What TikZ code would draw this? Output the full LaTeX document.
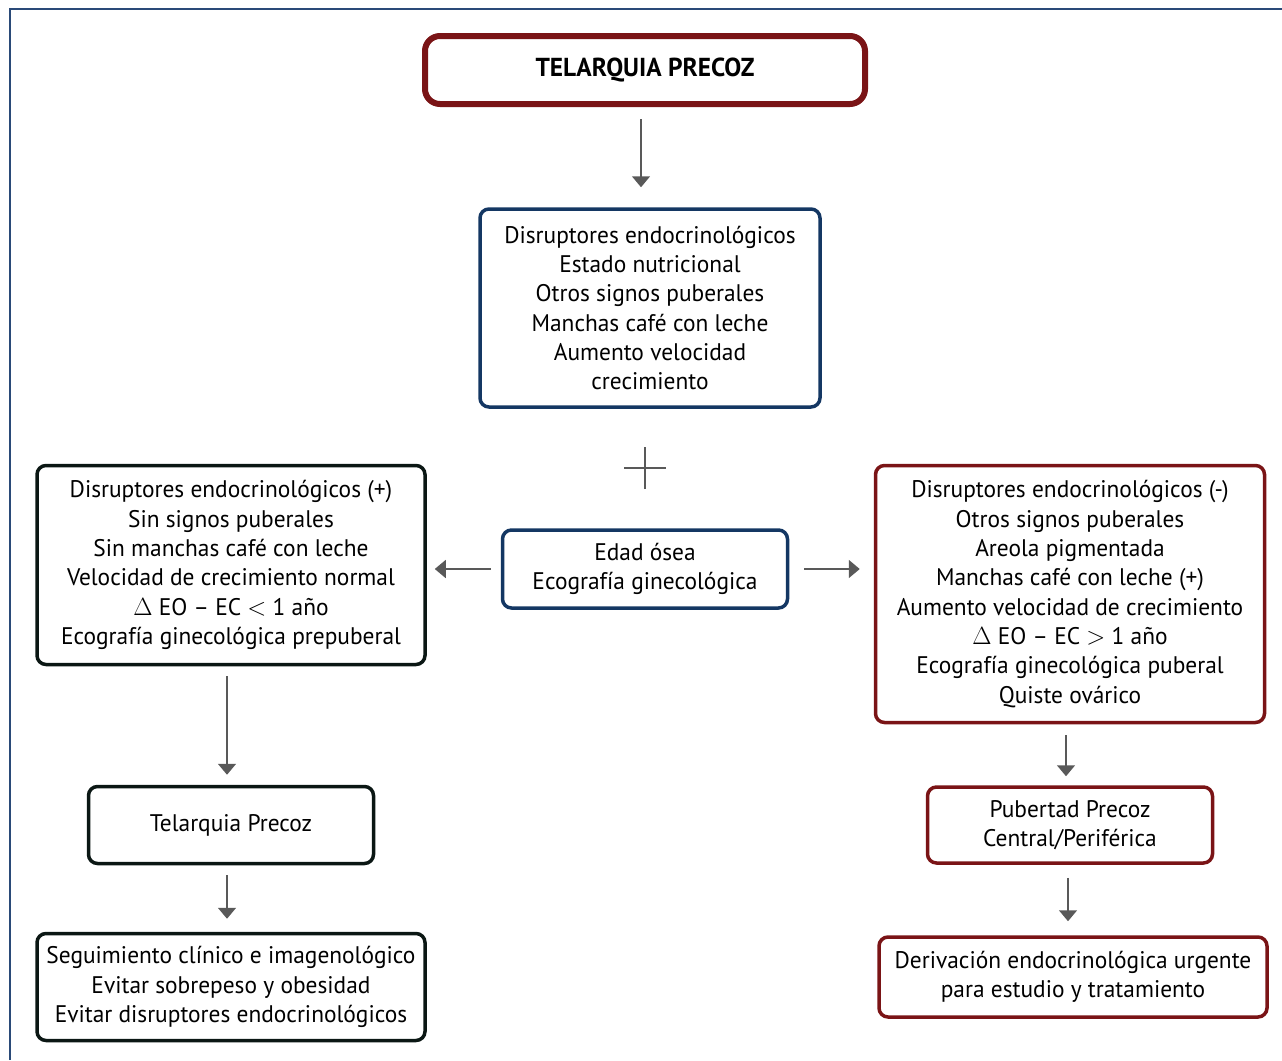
\documentclass[tikz,border=0pt]{standalone}
\usepackage{fontspec}
\setmainfont[FakeStretch=0.975]{PT Sans}
\usetikzlibrary{arrows.meta}
\definecolor{boxred}{HTML}{7A1416}
\definecolor{boxblue}{HTML}{143763}
\definecolor{boxblack}{HTML}{0B1714}
\definecolor{framecol}{HTML}{2A4A78}
\tikzset{
  box/.style={draw, rounded corners=9pt, line width=3.5pt, align=center, inner sep=0pt,
    font=\fontsize{24}{29.3}\selectfont},
  redbox/.style={box, draw=boxred},
  bluebox/.style={box, draw=boxblue},
  blackbox/.style={box, draw=boxblack},
  arr/.style={draw=black!65, line width=1.5pt, -{Triangle[width=18pt,length=11pt]}}
}
\begin{document}
\begin{tikzpicture}[x=1pt,y=-1pt]
  \useasboundingbox (0,0) rectangle (1282,1060);
  \draw[framecol, line width=2pt] (10,1060) -- (10,9) -- (1282,9); % frame

  \node[redbox, line width=6pt, rounded corners=15pt, minimum width=440pt, minimum height=68pt,
    font=\fontsize{26}{30}\selectfont\bfseries] (title) at (645,70) {TELARQUIA PRECOZ};
  \node[bluebox, minimum width=340pt, minimum height=198pt] (check) at (650,308)
    {Disruptores endocrinológicos\\Estado nutricional\\Otros signos puberales\\Manchas café con leche\\Aumento velocidad\\crecimiento};
  \coordinate (plus) at (645,468);
  \node[bluebox, minimum width=285pt, minimum height=78pt] (exam) at (645,569)
    {Edad ósea\\Ecografía ginecológica};

  \node[blackbox, minimum width=388pt, minimum height=199pt] (normal) at (231,565)
    {Disruptores endocrinológicos (+)\\Sin signos puberales\\Sin manchas café con leche\\Velocidad de crecimiento normal\\$\Delta$ EO -- EC $<$ 1 año\\Ecografía ginecológica prepuberal};
  \node[blackbox, minimum width=285pt, minimum height=77pt] (tp) at (231,825) {Telarquia Precoz};
  \node[blackbox, minimum width=388pt, minimum height=107pt] (follow) at (231,987)
    {Seguimiento clínico e imagenológico\\Evitar sobrepeso y obesidad\\Evitar disruptores endocrinológicos};

  \node[redbox, minimum width=389pt, minimum height=257pt] (abnormal) at (1070,594)
    {Disruptores endocrinológicos (-)\\Otros signos puberales\\Areola pigmentada\\Manchas café con leche (+)\\Aumento velocidad de crecimiento\\$\Delta$ EO -- EC $>$ 1 año\\Ecografía ginecológica puberal\\Quiste ovárico};
  \node[redbox, minimum width=285pt, minimum height=76pt] (pp) at (1070,825)
    {Pubertad Precoz\\Central/Periférica};
  \node[redbox, minimum width=388pt, minimum height=80pt] (refer) at (1073,977)
    {Derivación endocrinológica urgente\\para estudio y tratamiento};

  \draw[arr, shorten <=12pt, shorten >=20pt] ([xshift=-4pt]title.south) -- ([xshift=-9pt]check.north);
  \draw[black!65, line width=1.5pt] ([xshift=-21pt]plus) -- ([xshift=21pt]plus)
    ([yshift=-21pt]plus) -- ([yshift=21pt]plus);
  \draw[arr, shorten <=10pt, shorten >=8pt] (exam) -- (exam -| normal.east);
  \draw[arr, shorten <=15pt, shorten >=14pt] (exam) -- (exam -| abnormal.west);
  \draw[arr, shorten <=10pt, shorten >=10pt] ([xshift=-4pt]normal.south) -- ([xshift=-4pt]tp.north);
  \draw[arr, shorten <=10pt, shorten >=13pt] ([xshift=-4pt]tp.south) -- ([xshift=-4pt]follow.north);
  \draw[arr, shorten <=11pt, shorten >=9pt] ([xshift=-4pt]abnormal.south) -- ([xshift=-4pt]pp.north);
  \draw[arr, shorten <=13pt, shorten >=14pt] ([xshift=-2pt]pp.south) -- ([xshift=-5pt]refer.north);
\end{tikzpicture}
\end{document}
